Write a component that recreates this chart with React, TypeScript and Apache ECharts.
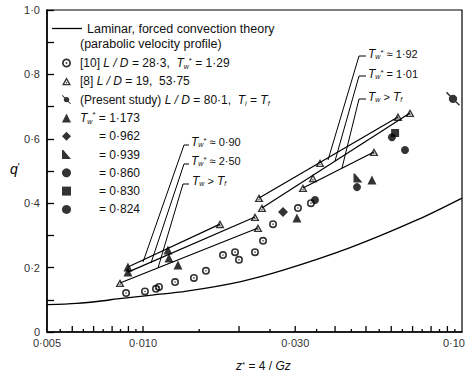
import React, { useEffect, useRef } from "react";
import * as echarts from "echarts";

const FONT = "'Liberation Sans', Arial, sans-serif";

// Laminar forced convection theory (parabolic velocity profile)
const theoryX = [0.005, 0.0062, 0.0075, 0.0083, 0.0105, 0.0137, 0.0201, 0.0275, 0.0446, 0.0723, 0.1];
const theoryQ = [0.085, 0.089, 0.097, 0.103, 0.114, 0.127, 0.156, 0.192, 0.262, 0.348, 0.416];

// [10] L/D = 28.3 (hollow circles)
const ref10X = [0.00885, 0.01014, 0.01098, 0.01122, 0.0126, 0.01444, 0.01575, 0.01781, 0.01943, 0.01999, 0.02244, 0.02378, 0.02556, 0.0306, 0.0336];
const ref10Q = [0.121, 0.126, 0.134, 0.14, 0.155, 0.168, 0.19, 0.239, 0.248, 0.224, 0.248, 0.283, 0.335, 0.385, 0.4];

// [8] L/D = 19, 53.75 (hollow triangles)
const ref8X = [0.00847, 0.01743, 0.0231, 0.0236, 0.02244, 0.02293, 0.03588, 0.03411, 0.03173, 0.05296, 0.063, 0.0687];
const ref8Q = [0.152, 0.335, 0.416, 0.385, 0.357, 0.323, 0.525, 0.478, 0.447, 0.559, 0.668, 0.68];

// Present study
const presentX = [0.0937];
const presentQ = [0.724];
const t1173X = [0.00897, 0.00897, 0.01197, 0.01206, 0.01287, 0.03038, 0.0522];
const t1173Q = [0.202, 0.186, 0.255, 0.23, 0.208, 0.354, 0.472];
const t0962X = [0.02747];
const t0962Q = [0.373];
const t0939X = [0.0472];
const t0939Q = [0.478];
const t0860X = [0.04686];
const t0860Q = [0.45];
const t0830X = [0.0617];
const t0830Q = [0.618];
const t0824X = [0.0346, 0.0603, 0.06627];
const t0824Q = [0.41, 0.605, 0.565];

// hand-drawn fit lines
const fit090X = [0.00897, 0.01743];
const fit090Q = [0.202, 0.335];
const fit250X = [0.00897, 0.02244];
const fit250Q = [0.186, 0.357];
const fitLeftX = [0.00847, 0.02293];
const fitLeftQ = [0.152, 0.323];
const fit192X = [0.0231, 0.063];
const fit192Q = [0.416, 0.668];
const fit101X = [0.0236, 0.0687];
const fit101Q = [0.385, 0.68];
const fitRightX = [0.03173, 0.05296];
const fitRightQ = [0.447, 0.559];

// axis ticks
const xMajorTicks = [0.006, 0.007, 0.008, 0.009, 0.01, 0.02, 0.03, 0.04, 0.05, 0.06, 0.07, 0.08, 0.09];
const xMinorTicks = [0.0055, 0.0065, 0.0075, 0.0085, 0.0095, 0.015, 0.025, 0.035, 0.045, 0.055, 0.065, 0.075, 0.085, 0.095];
const xTickValues = [0.005, 0.01, 0.03, 0.1];
const xTickText = ["0·005", "0·010", "0·030", "0·10"];
const yTickValues = [0, 0.2, 0.4, 0.6, 0.8, 1.0];
const yTickText = ["0", "0·2", "0·4", "0·6", "0·8", "1·0"];

const NAME_THEORY = "Laminar, forced convection theory";
const NAME_10 = "[10] L/D = 28·3, Tw* = 1·29";
const NAME_8 = "[8] L/D = 19, 53·75";
const NAME_PRES = "(Present study) L/D = 80·1, Ti = Tf";
const NAME_1173 = "Tw* = 1·173";
const NAME_0962 = "= 0·962";
const NAME_0939 = "= 0·939";
const NAME_0860 = "= 0·860";
const NAME_0830 = "= 0·830";
const NAME_0824 = "= 0·824";

const legendRich: Record<string, string> = {
  [NAME_10]: "{p0|}[10] {i|L / D} = 28·3,  {i|T}{sub|w}{sup|*} = 1·29",
  [NAME_8]: "{p0|}[8] {i|L / D} = 19,  53·75",
  [NAME_PRES]: "{p0|}(Present study) {i|L / D} = 80·1,  {i|T}{sub|i} = {i|T}{sub|f}",
  [NAME_1173]: "{p0|}{i|T}{sub|w}{sup|*} = 1·173",
  [NAME_0962]: "{pad|}= 0·962",
  [NAME_0939]: "{pad|}= 0·939",
  [NAME_0860]: "{pad|}= 0·860",
  [NAME_0830]: "{pad|}= 0·830",
  [NAME_0824]: "{pad|}= 0·824",
};

const zip = (xs: number[], ys: number[]) => xs.map((x, i) => [x, ys[i]]);

const SYM_RING = "path://M0,10A10,10,0,1,1,20,10A10,10,0,1,1,0,10Z M4,10A6,6,0,1,0,16,10A6,6,0,1,0,4,10Z M8,10A2,2,0,1,1,12,10A2,2,0,1,1,8,10Z";
const SYM_TRI_HOLLOW = "path://M10,0L20,18L0,18Z M10,6.2L5.1,15L14.9,15Z M8.4,12.1A1.6,1.6,0,1,1,11.6,12.1A1.6,1.6,0,1,1,8.4,12.1Z";
const SYM_PRESENT = "path://M4,10A6,6,0,1,1,16,10A6,6,0,1,1,4,10Z M0,1.5L1.5,0L7,5.5L5.5,7Z M13,14.5L14.5,13L20,18.5L18.5,20Z";
const SYM_WEDGE = "path://M0,0L3,0L20,20L0,20Z";
const SYM_LINE = "path://M0,0H30V1.3H0Z";

const rich = {
  i: { fontStyle: "italic", fontSize: 12, fontFamily: FONT, color: "#111" },
  sub: { fontSize: 7, verticalAlign: "bottom", fontStyle: "italic", fontFamily: FONT, color: "#111" },
  sup: { fontSize: 8, verticalAlign: "top", fontFamily: FONT, color: "#111" },
  pad: { width: 23 },
  p0: { width: 4 },
};

export default function App() {
  const ref = useRef<HTMLDivElement>(null);
  useEffect(() => {
    if (!ref.current) return;
    const chart = echarts.init(ref.current, undefined, { renderer: "svg" });

    const scatter = (name: string, xs: number[], ys: number[], symbol: string, size: number) => ({
      name,
      type: "scatter",
      data: zip(xs, ys),
      symbol,
      symbolSize: size,
      symbolKeepAspect: true,
      itemStyle: { color: "#000" },
      z: 5,
    });
    const fit = (xs: number[], ys: number[]) => ({
      type: "line",
      data: zip(xs, ys),
      symbol: "none",
      silent: true,
      lineStyle: { color: "#000", width: 1.2 },
      z: 3,
    });
    const tickSeries = (vals: number[], len: number) => ({
      type: "custom",
      silent: true,
      data: vals.map((v) => [v, 0]),
      renderItem: (params: any, api: any) => {
        const p = api.coord([api.value(0), 0]);
        return {
          type: "line",
          shape: { x1: p[0], y1: p[1], x2: p[0], y2: p[1] - len },
          style: { stroke: "#000", lineWidth: 1.3 },
        };
      },
      z: 6,
    });

    const option: any = {
      animation: false,
      backgroundColor: "#fff",
      color: ["#000"],
      textStyle: { fontFamily: FONT },
      grid: { left: 47, right: 4, top: 10, bottom: 45, show: true, borderColor: "#000", borderWidth: 1.2 },
      xAxis: {
        type: "log",
        logBase: 10,
        min: 0.005,
        max: 0.1,
        axisLine: { lineStyle: { color: "#000", width: 1.5 } },
        axisTick: { show: false },
        axisLabel: { show: false },
        splitLine: { show: false },
        minorTick: { show: false },
      },
      yAxis: {
        type: "value",
        min: 0,
        max: 1,
        interval: 0.1,
        axisLine: { show: true, lineStyle: { color: "#000", width: 1.5 } },
        axisTick: { show: true, inside: true, length: 7, lineStyle: { color: "#000", width: 1.3 } },
        axisLabel: {
          margin: 7,
          fontSize: 11,
          color: "#333",
          fontFamily: FONT,
          formatter: (v: number) => {
            const idx = yTickValues.findIndex((t) => Math.abs(t - v) < 1e-6);
            return idx >= 0 ? yTickText[idx] : "";
          },
        },
        splitLine: { show: false },
      },
      legend: [
        {
          data: [{ name: NAME_THEORY, icon: SYM_LINE }],
          orient: "vertical",
          left: 52,
          top: 22,
          padding: 0,
          itemWidth: 30,
          itemHeight: 10,
          selectedMode: false,
          textStyle: { fontSize: 12.5, color: "#111", fontFamily: FONT },
        },
        {
          data: [NAME_10, NAME_8, NAME_PRES, NAME_1173, NAME_0962, NAME_0939, NAME_0860, NAME_0830, NAME_0824],
          orient: "vertical",
          left: 62,
          top: 56,
          padding: 0,
          itemWidth: 9,
          itemHeight: 9,
          itemGap: 4.3,
          selectedMode: false,
          formatter: (name: string) => legendRich[name] ?? name,
          textStyle: { fontSize: 12, lineHeight: 14, color: "#111", fontFamily: FONT, rich },
        },
      ],
      series: [
        {
          name: NAME_THEORY,
          type: "line",
          data: zip(theoryX, theoryQ),
          smooth: 0.3,
          symbol: "none",
          showSymbol: false,
          itemStyle: { color: "#000" },
          lineStyle: { color: "#000", width: 1.3 },
          z: 2,
        },
        scatter(NAME_10, ref10X, ref10Q, SYM_RING, 8),
        scatter(NAME_8, ref8X, ref8Q, SYM_TRI_HOLLOW, 9),
        scatter(NAME_PRES, presentX, presentQ, SYM_PRESENT, 14),
        scatter(NAME_1173, t1173X, t1173Q, "triangle", 9),
        scatter(NAME_0962, t0962X, t0962Q, "diamond", 10),
        scatter(NAME_0939, t0939X, t0939Q, SYM_WEDGE, 9),
        scatter(NAME_0860, t0860X, t0860Q, "circle", 8),
        scatter(NAME_0830, t0830X, t0830Q, "rect", 8),
        scatter(NAME_0824, t0824X, t0824Q, "circle", 8),
        fit(fit090X, fit090Q),
        fit(fit250X, fit250Q),
        fit(fitLeftX, fitLeftQ),
        fit(fit192X, fit192Q),
        fit(fit101X, fit101Q),
        fit(fitRightX, fitRightQ),
        tickSeries(xMajorTicks, 6),
        tickSeries(xMinorTicks, 3),
        {
          type: "custom",
          silent: true,
          data: xTickValues.map((v) => [v, 0]),
          renderItem: (params: any, api: any) => {
            const p = api.coord([api.value(0), 0]);
            const last = params.dataIndex === xTickValues.length - 1;
            return {
              type: "text",
              x: last ? p[0] + 3 : p[0],
              y: p[1] + 5,
              style: {
                text: xTickText[params.dataIndex],
                align: last ? "right" : "center",
                verticalAlign: "top",
                fontSize: 11,
                fontFamily: FONT,
                fill: "#333",
              },
            };
          },
          z: 6,
        },
      ],
      graphic: [
        { type: "text", left: 80, top: 37, style: { text: "(parabolic velocity profile)", fontSize: 12.5, fontFamily: FONT, fill: "#111" } },
        { type: "text", left: 10, top: 162, style: { text: "{i|q}{sup|'}", rich: { i: { fontStyle: "italic", fontSize: 14, fontFamily: FONT, color: "#111" }, sup: { fontSize: 10, verticalAlign: "top", color: "#111" } } } },
        { type: "text", left: 236, top: 360, style: { text: "{i|z}{sup|*} = 4 / {i|Gz}", fontSize: 12, fontFamily: FONT, fill: "#111", rich } },
        // left annotations
        { type: "text", left: 191, top: 136, style: { text: "{i|T}{sub|w}{sup|*} ≈ 0·90", fontSize: 11, fontFamily: FONT, fill: "#111", rich } },
        { type: "text", left: 191, top: 155, style: { text: "{i|T}{sub|w}{sup|*} ≈ 2·50", fontSize: 11, fontFamily: FONT, fill: "#111", rich } },
        { type: "text", left: 192, top: 175, style: { text: "{i|T}{sub|w} > {i|T}{sub|f}", fontSize: 11, fontFamily: FONT, fill: "#111", rich } },
        { type: "polyline", shape: { points: [[189, 145], [184, 145], [143, 262]] }, style: { stroke: "#000", lineWidth: 1, fill: null } },
        { type: "polyline", shape: { points: [[189, 164], [184, 164], [151, 263]] }, style: { stroke: "#000", lineWidth: 1, fill: null } },
        { type: "polyline", shape: { points: [[189, 184], [183, 184], [158, 268]] }, style: { stroke: "#000", lineWidth: 1, fill: null } },
        // right annotations
        { type: "text", left: 368, top: 48, style: { text: "{i|T}{sub|w}{sup|*} ≈ 1·92", fontSize: 11, fontFamily: FONT, fill: "#111", rich } },
        { type: "text", left: 368, top: 68, style: { text: "{i|T}{sub|w}{sup|*} = 1·01", fontSize: 11, fontFamily: FONT, fill: "#111", rich } },
        { type: "text", left: 368, top: 91, style: { text: "{i|T}{sub|w} > {i|T}{sub|f}", fontSize: 11, fontFamily: FONT, fill: "#111", rich } },
        { type: "polyline", shape: { points: [[366, 56], [359, 56], [328, 160]] }, style: { stroke: "#000", lineWidth: 1, fill: null } },
        { type: "polyline", shape: { points: [[366, 76], [359, 76], [335, 161]] }, style: { stroke: "#000", lineWidth: 1, fill: null } },
        { type: "polyline", shape: { points: [[366, 99], [359, 99], [342, 168]] }, style: { stroke: "#000", lineWidth: 1, fill: null } },
      ],
    };
    chart.setOption(option);
    return () => chart.dispose();
  }, []);
  return <div ref={ref} style={{ position: "absolute", left: 0, top: 0, width: 466, height: 377 }} />;
}
